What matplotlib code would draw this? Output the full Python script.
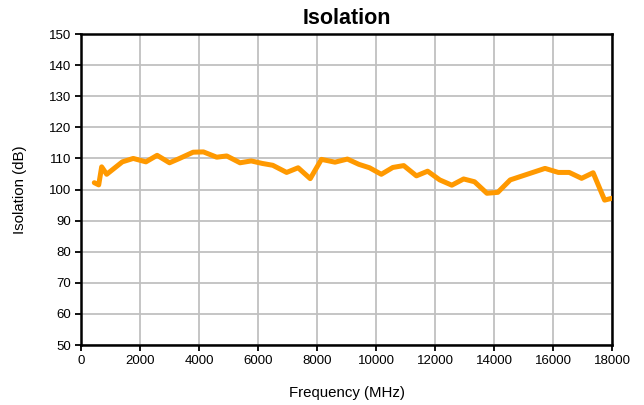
import matplotlib
matplotlib.use("Agg")
import matplotlib.pyplot as plt

plt.rcParams['font.family'] = ['Liberation Sans', 'DejaVu Sans']

# frequency (MHz) and isolation (dB)
freq = [450, 600, 700, 870, 1400, 1770, 2200, 2580, 3000, 3340, 3800, 4150,
        4600, 4940, 5390, 5770, 6140, 6500, 6970, 7360, 7770, 8150, 8610,
        9030, 9420, 9780, 10180, 10570, 10940, 11370, 11750, 12160, 12570,
        12970, 13340, 13760, 14130, 14550, 15730, 16180, 16550, 16970,
        17360, 17750, 18000]
isolation = [102.2, 101.5, 107.3, 104.9, 108.9, 110.0, 108.9, 111.0, 108.6,
             110.0, 112.0, 112.1, 110.4, 110.8, 108.6, 109.2, 108.4, 107.8,
             105.5, 107.0, 103.5, 109.7, 108.8, 109.8, 108.1, 107.0, 104.9,
             107.1, 107.7, 104.4, 105.9, 103.1, 101.4, 103.4, 102.5, 98.8,
             99.1, 103.1, 106.8, 105.5, 105.5, 103.6, 105.4, 96.6, 97.2]

fig = plt.figure(figsize=(6.44, 4.05), dpi=100)
ax = fig.add_axes([0.1258, 0.148, 0.8245, 0.768])

ax.plot(freq, isolation, color='#FF9900', linewidth=3.6, solid_joinstyle='round',
        solid_capstyle='round', zorder=3)

ax.set_xlim(0, 18000)
ax.set_ylim(50, 150)
ax.set_xticks(range(0, 18001, 2000))
ax.set_yticks(range(50, 151, 10))
ax.grid(True, color='#C0C0C0', linewidth=1.3)
ax.set_axisbelow(True)

for s in ax.spines.values():
    s.set_linewidth(1.8)
    s.set_color('black')
ax.tick_params(direction='out', length=4, width=1.3, labelsize=9.5, pad=3)

ax.set_title('Isolation', fontsize=15.5, fontweight='bold', pad=7)
ax.set_xlabel('Frequency (MHz)', fontsize=10.8, labelpad=14)
ax.set_ylabel('Isolation (dB)', fontsize=10.8, labelpad=16)

fig.savefig('out.png', dpi=100)
